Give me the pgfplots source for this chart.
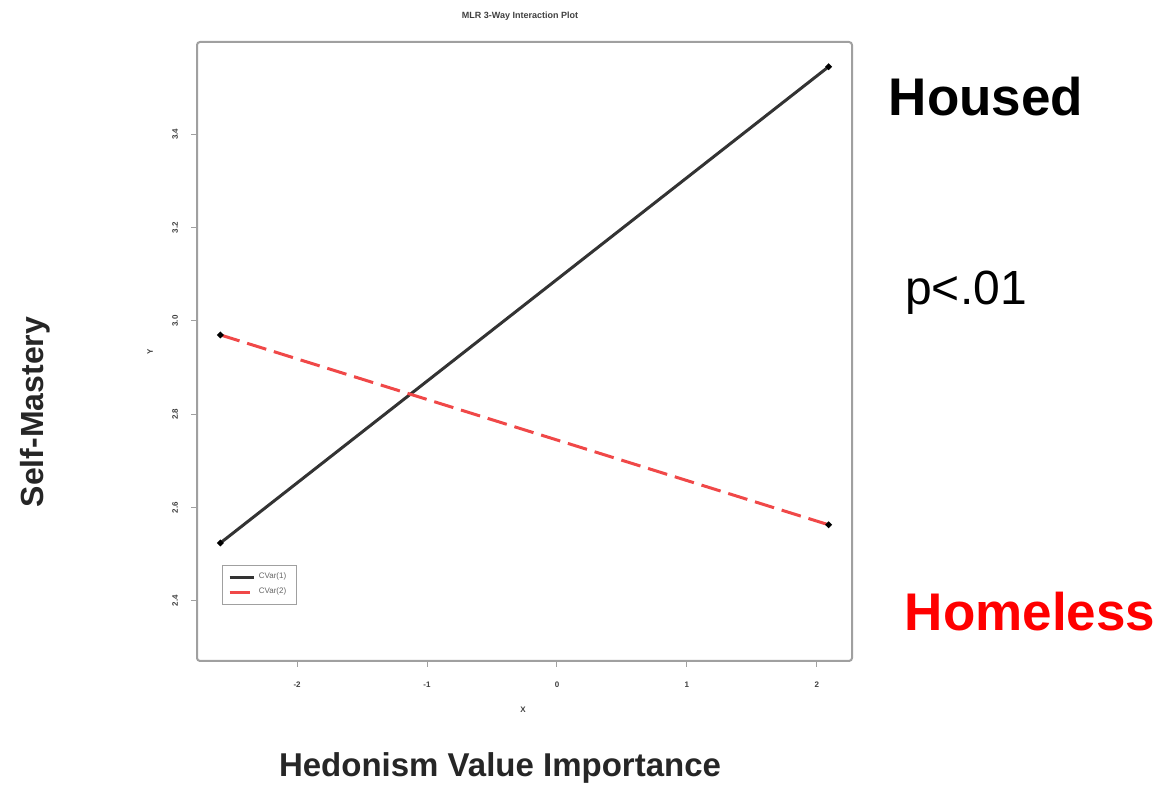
\documentclass[border=0pt]{standalone}
\usepackage{pgfplots}
\pgfplotsset{compat=1.18}
\usepackage{fontspec}
\setmainfont{Liberation Sans}
\definecolor{boxgray}{HTML}{A0A0A0}
\definecolor{linedark}{HTML}{333333}
\definecolor{dashred}{HTML}{F04848}
\begin{document}
\begin{tikzpicture}[x=1pt,y=1pt]
\useasboundingbox (0,0) rectangle (581,392.5);
\begin{axis}[
  at={(98.5pt,62pt)}, anchor=south west,
  scale only axis, width=327.5pt, height=309.5pt,
  xmin=-2.77, xmax=2.27, ymin=2.271, ymax=3.598,
  xtick={-2,-1,0,1,2}, ytick={2.4,2.6,2.8,3.0,3.2,3.4},
  yticklabel style={/pgf/number format/fixed zerofill,/pgf/number format/precision=1},
  tick align=outside, tick pos=left,
  major tick length=3pt,
  /pgf/number format/assume math mode=true,
  tick label style={font=\fontsize{4}{5}\selectfont\bfseries, text=black!75},
  yticklabel style={rotate=90, anchor=south, yshift=3pt},
  xticklabel style={yshift=-4pt},
  axis line style={boxgray, line width=1pt, rounded corners=1.5pt},
  every tick/.style={boxgray, line width=0.5pt},
  legend style={at={(0.038,0.09)}, anchor=south west, draw=boxgray, line width=0.5pt,
    font=\fontsize{4}{4.5}\selectfont, text=black!60, inner xsep=3pt, inner ysep=2pt, row sep=-1pt},
  legend cell align=left,
  legend image code/.code={\draw[#1, line width=1.2pt] (0pt,0pt) -- (12pt,0pt);},
  clip=false,
]
\addplot[linedark, line width=1.5pt, mark=*, mark size=0.7pt, mark options={solid, fill=black, draw=black}]
  coordinates {(-2.59,2.524) (2.09,3.545)};
\addlegendentry{CVar(1)\hspace{4pt}}
\addplot[dashred, line width=1.5pt, dash pattern=on 10pt off 4pt, mark=*, mark size=0.7pt, mark options={solid, fill=black, draw=black}]
  coordinates {(-2.59,2.970) (2.09,2.563)};
\addlegendentry{CVar(2)\hspace{4pt}}
\end{axis}
\node[font=\fontsize{4.5}{5}\selectfont\bfseries, text=black!75] at (260,384.5) {MLR 3-Way Interaction Plot};
\node[font=\fontsize{4}{5}\selectfont\bfseries, text=black!75, rotate=90] at (75,216.5) {Y};
\node[font=\fontsize{4}{5}\selectfont\bfseries, text=black!75] at (261.5,37.5) {X};
\node[font=\fontsize{16}{18}\selectfont\bfseries, text=black!85, rotate=90] at (17.5,186.5) {Self-Mastery};
\node[font=\fontsize{16.5}{18}\selectfont\bfseries, text=black!85] at (250,8.5) {Hedonism Value Importance};
\node[font=\fontsize{26.5}{30}\selectfont\bfseries] at (493,344) {Housed};
\node[font=\fontsize{24}{28}\selectfont] at (483,246) {p<.01};
\node[font=\fontsize{26.5}{30}\selectfont\bfseries, text=red] at (515,86.5) {Homeless};
\end{tikzpicture}
\end{document}
